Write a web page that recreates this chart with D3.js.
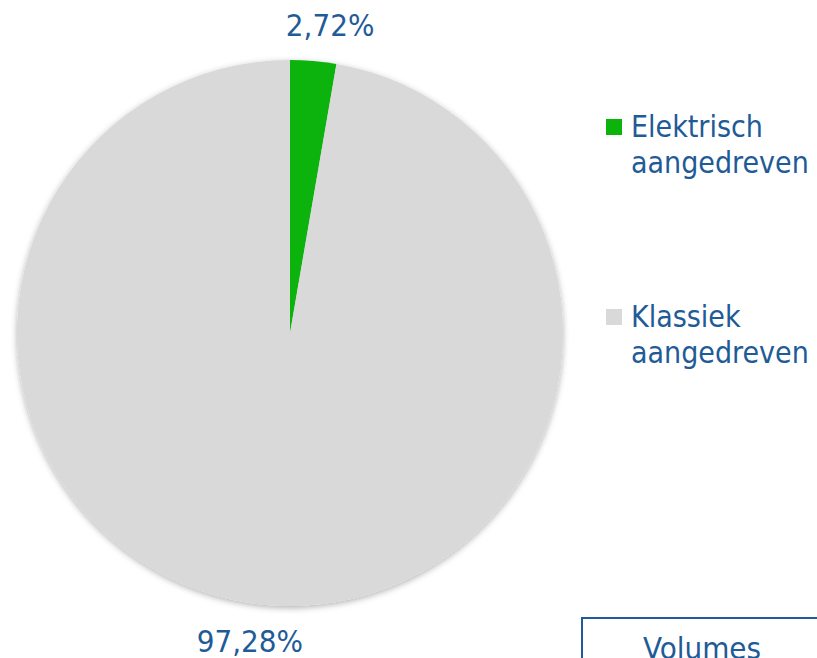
<!DOCTYPE html>
<html>
<head>
<meta charset="utf-8">
<script src="https://cdn.jsdelivr.net/npm/d3@7"></script>
<style>
    body { margin: 0; background: #fff; }
    svg { display: block; }
    text { font-family: "DejaVu Sans Condensed", "DejaVu Sans", sans-serif; fill: #1f5b97; }
</style>
</head>
<body>
<div id="chart"></div>
<script>
// chart data
const categories = ["Elektrisch aangedreven", "Klassiek aangedreven"];
const legendLines = [["Elektrisch", "aangedreven"], ["Klassiek", "aangedreven"]];
const shares = [2.72, 97.28];
const labels = ["2,72%", "97,28%"];
const colors = ["#0bb30b", "#d9d9d9"];
const boxTitle = "Volumes";

const width = 817, height = 658;
const cx = 290, cy = 333, radius = 273;

const svg = d3.select("#chart").append("svg")
    .attr("width", width)
    .attr("height", height);

// soft shadow under the pie
const defs = svg.append("defs");
const filter = defs.append("filter")
    .attr("id", "shadow")
    .attr("x", "-10%").attr("y", "-10%")
    .attr("width", "120%").attr("height", "120%");
filter.append("feDropShadow")
    .attr("dx", 0).attr("dy", 2)
    .attr("stdDeviation", 3)
    .attr("flood-color", "#000")
    .attr("flood-opacity", 0.3);

const data = categories.map((c, i) => ({ name: c, value: shares[i], label: labels[i], color: colors[i], lines: legendLines[i] }));

const pie = d3.pie().sort(null).value(d => d.value);
const arc = d3.arc().innerRadius(0).outerRadius(radius);
const arcs = pie(data);

const plot = svg.append("g")
    .attr("transform", `translate(${cx},${cy})`);

plot.append("g")
    .attr("filter", "url(#shadow)")
    .selectAll("path")
    .data(arcs)
    .enter()
    .append("path")
    .attr("d", arc)
    .attr("fill", d => d.data.color);

// data labels, outside end
plot.selectAll("text.label")
    .data(arcs)
    .enter()
    .append("text")
    .attr("class", "label")
    .attr("text-anchor", "middle")
    .attr("dominant-baseline", "central")
    .attr("font-size", 31)
    .attr("x", d => Math.sin((d.startAngle + d.endAngle) / 2) * 470)
    .attr("y", d => -Math.cos((d.startAngle + d.endAngle) / 2) * 309)
    .text(d => d.data.label);

// legend
const legendY = d3.scalePoint()
    .domain(categories)
    .range([127, 317]);

const legend = svg.append("g")
    .attr("transform", "translate(606,0)");

const item = legend.selectAll("g.item")
    .data(data)
    .enter()
    .append("g")
    .attr("class", "item")
    .attr("transform", d => `translate(0,${legendY(d.name)})`);

item.append("rect")
    .attr("x", 0)
    .attr("y", -8)
    .attr("width", 16)
    .attr("height", 16)
    .attr("fill", d => d.color);

item.append("text")
    .attr("x", 25)
    .attr("y", 10)
    .attr("font-size", 30)
    .selectAll("tspan")
    .data(d => d.lines)
    .enter()
    .append("tspan")
    .attr("x", 25)
    .attr("dy", (d, i) => i === 0 ? 0 : 36)
    .text(d => d);

// box at the bottom right
svg.append("rect")
    .attr("x", 582)
    .attr("y", 618)
    .attr("width", 260)
    .attr("height", 80)
    .attr("fill", "none")
    .attr("stroke", "#1f5b97")
    .attr("stroke-width", 2);

svg.append("text")
    .attr("x", 643)
    .attr("y", 659)
    .attr("font-size", 31)
    .text(boxTitle);
</script>
</body>
</html>
